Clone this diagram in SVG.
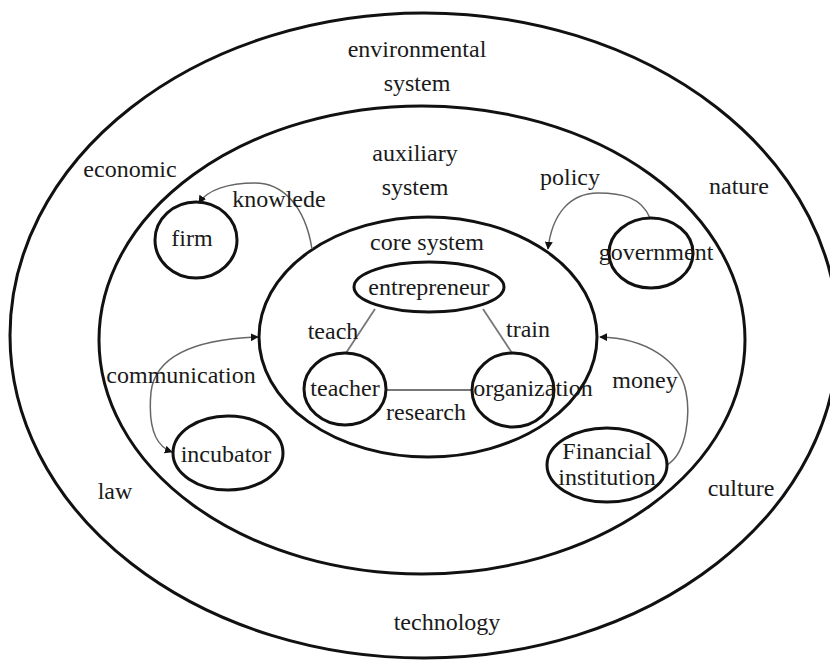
<svg xmlns="http://www.w3.org/2000/svg" width="830" height="663" viewBox="0 0 830 663">
<defs>
<style>
.ring{fill:none;stroke:#111;stroke-width:3}
.node{fill:#fff;stroke:#111;stroke-width:3}
.lbl{font-family:"Liberation Serif","Times New Roman",serif;font-size:24px;fill:#1a1a1a;text-anchor:middle}
.arc{fill:none;stroke:#666;stroke-width:1.5}
.link{fill:none;stroke:#777;stroke-width:1.8}
</style>
<marker id="ah" viewBox="0 0 10 10" refX="9" refY="5" markerWidth="8" markerHeight="8" markerUnits="userSpaceOnUse" orient="auto-start-reverse">
<path d="M0,0 L10,5 L0,10 z" fill="#111"/>
</marker>
</defs>
<rect width="830" height="663" fill="#fff"/>

<g id="environmental-system">
<ellipse class="ring" cx="424" cy="335.5" rx="414" ry="322.5"/>
<text class="lbl" x="417" y="57">environmental</text>
<text class="lbl" x="417" y="91">system</text>
<text class="lbl" x="130" y="177">economic</text>
<text class="lbl" x="739" y="194">nature</text>
<text class="lbl" x="115" y="499">law</text>
<text class="lbl" x="741" y="496">culture</text>
<text class="lbl" x="447" y="630">technology</text>
</g>

<g id="auxiliary-system">
<ellipse class="ring" cx="422" cy="340" rx="323" ry="234"/>
<text class="lbl" x="415" y="161">auxiliary</text>
<text class="lbl" x="415" y="195">system</text>
</g>

<g id="core-system">
<ellipse class="ring" cx="428" cy="337" rx="169" ry="120"/>
<text class="lbl" x="427" y="250">core system</text>
</g>

<g id="connectors">
<path class="arc" d="M312,249 C305,205 282,183 255,183 C228,183 207,190 199,203" marker-end="url(#ah)"/>
<path class="arc" d="M650,218 C641,197 622,193 598,193 C570,193 552,214 548,249" marker-end="url(#ah)"/>
<path class="arc" d="M258,337 C205,339 156,352 151,392 C148,425 155,446 172,452" marker-start="url(#ah)" marker-end="url(#ah)"/>
<path class="arc" d="M667,465 C688,452 690,412 686,392 C680,360 645,338 600,337" marker-end="url(#ah)"/>
<line class="link" x1="375" y1="309" x2="346" y2="353"/>
<line class="link" x1="483" y1="309" x2="512" y2="353"/>
<line class="link" x1="386" y1="390" x2="472" y2="390"/>
<text class="lbl" x="333" y="339">teach</text>
<text class="lbl" x="528" y="337">train</text>
<text class="lbl" x="426" y="420">research</text>
<text class="lbl" x="279" y="207">knowlede</text>
<text class="lbl" x="570" y="185">policy</text>
<text class="lbl" x="181" y="383">communication</text>
<text class="lbl" x="645" y="388">money</text>
</g>

<g id="entrepreneur">
<ellipse class="node" cx="429" cy="287" rx="75" ry="25"/>
<text class="lbl" x="429" y="295">entrepreneur</text>
</g>

<g id="teacher">
<ellipse class="node" cx="345" cy="389" rx="41" ry="36"/>
<text class="lbl" x="345" y="396">teacher</text>
</g>

<g id="organization">
<ellipse class="node" cx="513" cy="390" rx="41" ry="37" style="fill:none"/>
<text class="lbl" x="533" y="396">organization</text>
</g>

<g id="firm">
<ellipse class="node" cx="196" cy="240" rx="41" ry="38"/>
<text class="lbl" x="192" y="246">firm</text>
</g>

<g id="government">
<ellipse class="node" cx="651" cy="253" rx="42" ry="35" style="fill:none"/>
<text class="lbl" x="656" y="260">government</text>
</g>

<g id="incubator">
<ellipse class="node" cx="228" cy="453" rx="55" ry="37"/>
<text class="lbl" x="226" y="462">incubator</text>
</g>

<g id="financial-institution">
<ellipse class="node" cx="607" cy="465" rx="60" ry="37" style="fill:none"/>
<text class="lbl" x="607" y="459">Financial</text>
<text class="lbl" x="607" y="485">institution</text>
</g>
</svg>
